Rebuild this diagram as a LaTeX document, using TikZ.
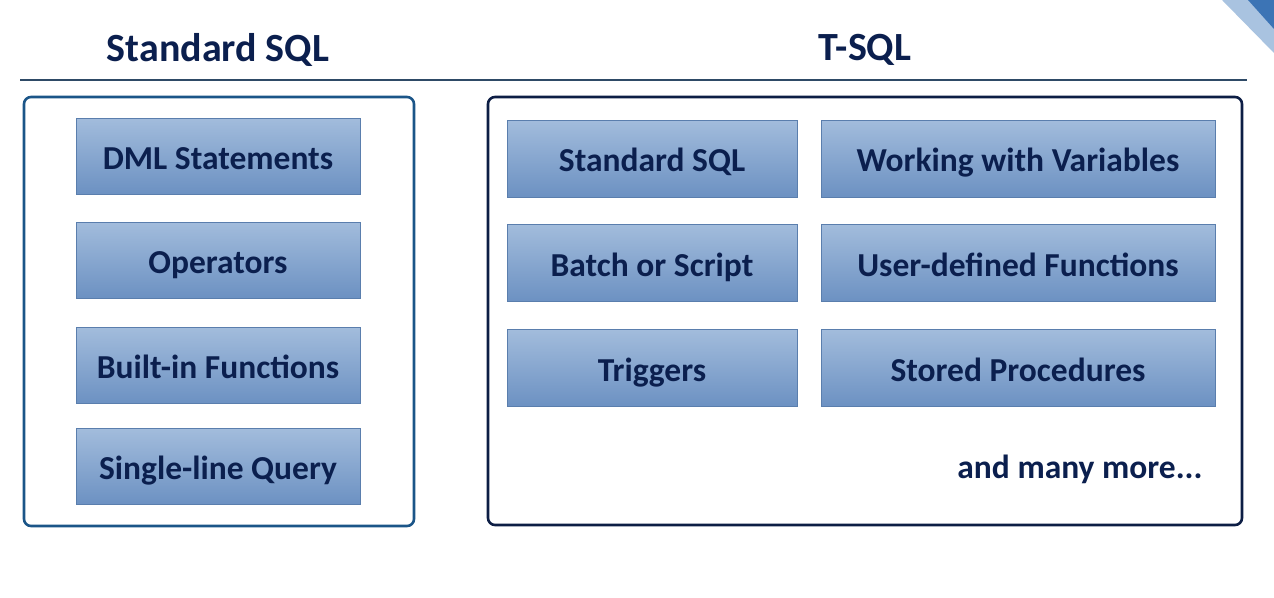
\documentclass[tikz,border=0pt]{standalone}
\usepackage{fontspec}
\setmainfont{Carlito}
\definecolor{navy}{HTML}{0B1F4E}
\definecolor{rule}{HTML}{2E4A66}
\definecolor{leftborder}{HTML}{1B5588}
\definecolor{rightborder}{HTML}{0D1E45}
\definecolor{boxtop}{HTML}{A2BCDC}
\definecolor{boxbot}{HTML}{6C91C2}
\definecolor{boxline}{HTML}{5A7EAD}
\definecolor{cornerdark}{HTML}{3C74B5}
\definecolor{cornerlight}{HTML}{A9C3E0}
\tikzset{
  title/.style={font=\fontsize{40}{44}\selectfont\bfseries, text=navy},
  itemfont/.style={font=\fontsize{33.5}{38}\selectfont\bfseries, text=navy},
  item/.style={draw=boxline, line width=1pt, top color=boxtop, bottom color=boxbot,
    itemfont, inner sep=0pt, text height=28pt, text depth=2pt},
  leftitem/.style={item, minimum width=284pt, minimum height=76pt},
  rcol1/.style={item, minimum width=290pt, minimum height=77pt},
  rcol2/.style={item, minimum width=394pt, minimum height=77pt},
  frame/.style={rounded corners=7pt, line width=2.6pt, inner sep=0pt}
}
\begin{document}
\begin{tikzpicture}[x=1pt,y=-1pt]
\useasboundingbox (0,0) rectangle (1274,597);
\fill[white] (0,0) rectangle (1274,597);
% corner decoration
\fill[cornerlight] (1222,0) -- (1274,0) -- (1274,53) -- cycle;
\fill[cornerdark] (1248,0) -- (1274,0) -- (1274,29) -- cycle;
% titles
\node[title] (tstd) at (218,50) {Standard SQL};
\node[title] (ttsql) at (865,50) {T-SQL};
\coordinate (ruleL) at (20,80);
\coordinate (ruleR) at (1247,80);
\draw[rule, line width=2.8pt] (ruleL) -- (ruleR);
% frames
\node[frame, draw=leftborder, minimum width=390pt, minimum height=429pt] (leftframe) at (219,311.5) {};
\node[frame, draw=rightborder, minimum width=754pt, minimum height=428pt] (rightframe) at (865,311) {};
% left items
\node[leftitem] (dml) at (218,156) {DML Statements};
\node[leftitem] (ops) at (218,260) {Operators};
\node[leftitem] (bif) at (218,365.5) {Built-in Functions};
\node[leftitem] (slq) at (218,466.5) {Single-line Query};
% right items
\node[rcol1] (rstd) at (652,158.5) {Standard SQL};
\node[rcol1] (batch) at (652,263) {Batch or Script};
\node[rcol1] (trig) at (652,368) {Triggers};
\node[rcol2] (vars) at (1018,158.5) {Working with Variables};
\node[rcol2] (udf) at (1018,263) {User-defined Functions};
\node[rcol2] (sp) at (1018,368) {Stored Procedures};
\node[itemfont] (more) at (1080,469) {and many more...};
\end{tikzpicture}
\end{document}
